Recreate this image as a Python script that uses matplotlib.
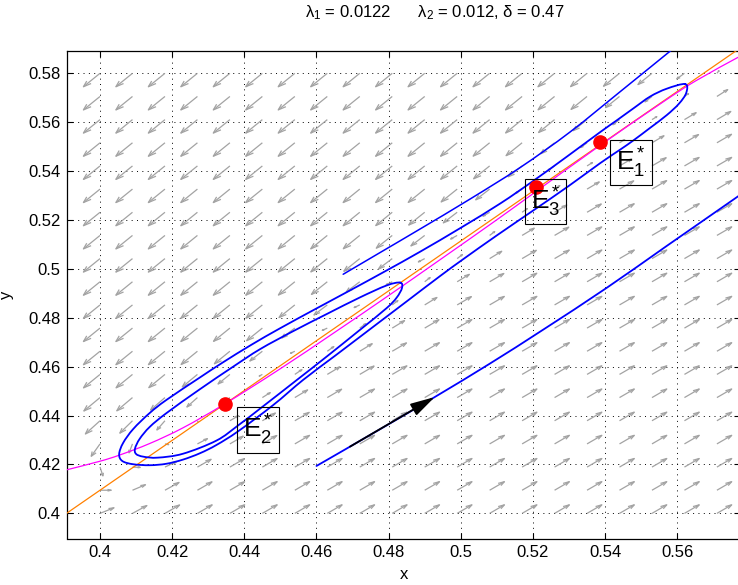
import numpy as np
import matplotlib
matplotlib.use('Agg')
import matplotlib.pyplot as plt
from matplotlib.collections import LineCollection
from matplotlib.path import Path
from matplotlib.patches import PathPatch

# ---------------- data ----------------
# straight (orange) nullcline
orange_x = [0.3907, 0.5780]
orange_y = [0.4000, 0.5909]

# curved (magenta) nullcline
magenta_x = [0.3907, 0.3999, 0.4055, 0.4138, 0.4230, 0.4346, 0.4498, 0.4650, 0.4800,
             0.4942, 0.5100, 0.5208, 0.5386, 0.5556, 0.5650, 0.5772]
magenta_y = [0.4178, 0.4213, 0.4239, 0.4286, 0.4350, 0.4448, 0.4590, 0.4740, 0.4891,
             0.5037, 0.5201, 0.5316, 0.5505, 0.5678, 0.5768, 0.5868]

# open trajectory in the upper left
trajA_x = [0.4674, 0.4780, 0.4887, 0.5025, 0.5164, 0.5303, 0.5442, 0.5584]
trajA_y = [0.4978, 0.5070, 0.5163, 0.5285, 0.5414, 0.5560, 0.5725, 0.5895]

# outer closed loop (starts at the upper-right tip, runs down the upper branch)
loopB_x = [0.5622, 0.5571, 0.5525, 0.5479, 0.5430, 0.5386, 0.5294, 0.5201, 0.5110, 0.5000,
           0.4887, 0.4790, 0.4693, 0.4596, 0.4499, 0.4420, 0.4340, 0.4277, 0.4184, 0.4138,
           0.4092, 0.4064, 0.4053,
           0.4062, 0.4092, 0.4138, 0.4184, 0.4230, 0.4277, 0.4323, 0.4383, 0.4480, 0.4563,
           0.4650, 0.4750, 0.4850, 0.4942, 0.5007, 0.5100, 0.5200, 0.5300, 0.5386, 0.5442,
           0.5479, 0.5525, 0.5571, 0.5605, 0.5625]
loopB_y = [0.5756, 0.5737, 0.5705, 0.5657, 0.5605, 0.5559, 0.5459, 0.5360, 0.5268, 0.5168,
           0.5070, 0.4990, 0.4912, 0.4835, 0.4757, 0.4690, 0.4617, 0.4556, 0.4464, 0.4411,
           0.4345, 0.4288, 0.4242,
           0.4214, 0.4201, 0.4197, 0.4203, 0.4220, 0.4246, 0.4280, 0.4336, 0.4443, 0.4546,
           0.4643, 0.4755, 0.4867, 0.4970, 0.5040, 0.5137, 0.5238, 0.5340, 0.5432, 0.5488,
           0.5526, 0.5577, 0.5629, 0.5676, 0.5720]

# inner closed loop around E2* (starts at its right tip)
loopC_x = [0.4832, 0.4794, 0.4720, 0.4628, 0.4535, 0.4444, 0.4369, 0.4277, 0.4184, 0.4138,
           0.4110, 0.4097,
           0.4100, 0.4120, 0.4160, 0.4230, 0.4323, 0.4383, 0.4452, 0.4545, 0.4628, 0.4720,
           0.4794, 0.4822, 0.4837]
loopC_y = [0.4944, 0.4932, 0.4883, 0.4815, 0.4745, 0.4672, 0.4600, 0.4508, 0.4410, 0.4354,
           0.4305, 0.4265,
           0.4243, 0.4232, 0.4228, 0.4244, 0.4298, 0.4360, 0.4438, 0.4545, 0.4641, 0.4750,
           0.4839, 0.4882, 0.4922]

# lower right trajectory
trajD_x = [0.4600, 0.4777, 0.4928, 0.5080, 0.5229, 0.5405, 0.5571, 0.5765, 0.5800]
trajD_y = [0.4194, 0.4345, 0.4476, 0.4612, 0.4752, 0.4923, 0.5094, 0.5293, 0.5330]

# direction arrow on the lower trajectory
arrow_start = (0.4693, 0.4273)
arrow_end = (0.4928, 0.4476)

# equilibria
eq_names = ['$\\mathrm{E}_1^*$', '$\\mathrm{E}_2^*$', '$\\mathrm{E}_3^*$']
eq_x = [0.5386, 0.4346, 0.5208]
eq_y = [0.5520, 0.4448, 0.5336]
label_x = [0.5472, 0.4438, 0.5235]
label_y = [0.5435, 0.4340, 0.5276]

xticks = [0.40, 0.42, 0.44, 0.46, 0.48, 0.50, 0.52, 0.54, 0.56]
xticklabels = ['0.4', '0.42', '0.44', '0.46', '0.48', '0.5', '0.52', '0.54', '0.56']
yticks = [0.40, 0.42, 0.44, 0.46, 0.48, 0.50, 0.52, 0.54, 0.56, 0.58]
yticklabels = ['0.4', '0.42', '0.44', '0.46', '0.48', '0.5', '0.52', '0.54', '0.56', '0.58']

title = '$\\lambda_1$ = 0.0122      $\\lambda_2$ = 0.012, $\\delta$ = 0.47'

# ---------------- styling ----------------
plt.rcParams['font.family'] = ['Liberation Sans', 'DejaVu Sans']
plt.rcParams['mathtext.fontset'] = 'custom'
plt.rcParams['mathtext.rm'] = 'Liberation Sans'
plt.rcParams['mathtext.it'] = 'Liberation Sans'
plt.rcParams['mathtext.bf'] = 'Liberation Sans:bold'

W, H = 738, 585
fig = plt.figure(figsize=(W / 100, H / 100), dpi=100)
ax = fig.add_axes([67.3 / W, 1 - 538.5 / H, (740 - 67.3) / W, (538.5 - 50.7) / H])
ax.set_xlim(0.39093, 0.5774)
ax.set_ylim(0.38973, 0.58924)


def smooth_path(xs, ys, closed=False):
    """Cubic Bezier path passing through every given point (Catmull-Rom tangents)."""
    P = np.column_stack([xs, ys]).astype(float)
    n = len(P)
    verts = [P[0]]
    codes = [Path.MOVETO]
    m = n if closed else n - 1
    for i in range(m):
        p0 = P[(i - 1) % n] if (closed or i > 0) else P[i]
        p1 = P[i]
        p2 = P[(i + 1) % n]
        p3 = P[(i + 2) % n] if (closed or i + 2 < n) else P[(i + 1) % n]
        c1 = p1 + (p2 - p0) / 6.0
        c2 = p2 - (p3 - p1) / 6.0
        verts += [c1, c2, p2]
        codes += [Path.CURVE4] * 3
    return Path(verts, codes)


def draw_curve(xs, ys, color, lw, closed=False, z=4):
    ax.add_patch(PathPatch(smooth_path(xs, ys, closed), fill=False, ec=color, lw=lw,
                           zorder=z, capstyle='round', joinstyle='round'))


# ---------------- direction field ----------------
qx = np.linspace(0.40, 0.58, 21)
qy = np.linspace(0.40, 0.58, 20)
X, Y = np.meshgrid(qx, qy)
dm = Y - np.interp(X, magenta_x, magenta_y)
do = Y - np.interp(X, orange_x, orange_y)
U = -np.where(dm > 0, 0.0046, 0.0041) * np.tanh(dm / 0.012)
V = -np.where(do > 0, 0.0055, 0.0035) * np.tanh(do / 0.012)
al, be = 0.33, 0.33
tx, ty = X + U, Y + V
b1x, b1y = tx - al * (U + be * V), ty - al * (V - be * U)
b2x, b2y = tx - al * (U - be * V), ty - al * (V + be * U)
segs = []
for i in range(X.shape[0]):
    for j in range(X.shape[1]):
        segs.append([(X[i, j], Y[i, j]), (tx[i, j], ty[i, j])])
        segs.append([(b1x[i, j], b1y[i, j]), (tx[i, j], ty[i, j]), (b2x[i, j], b2y[i, j])])
ax.add_collection(LineCollection(segs, colors='#a3a3a3', linewidths=0.9, zorder=1))

# ---------------- grid / axes ----------------
ax.set_xticks(xticks)
ax.set_xticklabels(xticklabels)
ax.set_yticks(yticks)
ax.set_yticklabels(yticklabels)
ax.grid(True, color='black', linestyle=(0, (1, 4.5)), linewidth=0.7)
ax.set_axisbelow(True)
ax.tick_params(direction='in', length=4, width=0.8, top=True, right=True,
               labelsize=12, pad=5, colors='black')
for s in ax.spines.values():
    s.set_linewidth(0.9)
ax.set_xlabel('x', fontsize=12, labelpad=5)
ax.set_ylabel('y', fontsize=12, labelpad=10)

# ---------------- curves ----------------
ax.plot(orange_x, orange_y, color='#ff8000', lw=0.9, zorder=3)
draw_curve(magenta_x, magenta_y, '#ff00ff', 0.9, z=3)
draw_curve(trajA_x, trajA_y, '#0000ff', 1.1)
draw_curve(loopB_x, loopB_y, '#0000ff', 1.3, closed=True)
draw_curve(loopC_x, loopC_y, '#0000ff', 1.3, closed=True)
draw_curve(trajD_x, trajD_y, '#0000ff', 1.3)
ax.annotate('', xy=arrow_end, xytext=arrow_start,
            arrowprops=dict(arrowstyle='-|>,head_length=0.75,head_width=0.2', color='black',
                            lw=1.3, shrinkA=0, shrinkB=0, mutation_scale=20), zorder=5)

ax.plot(eq_x, eq_y, 'o', color='#ff0000', ms=9.5, mec='#ff0000', zorder=6)
for nm, lx, ly in zip(eq_names, label_x, label_y):
    ax.text(lx, ly, nm, fontsize=19, ha='center', va='center', zorder=7,
            bbox=dict(boxstyle='square,pad=0.22', fc='none', ec='black', lw=0.8))

fig.text(435 / W, 1 - 13 / H, title, ha='center', va='center', fontsize=12)

fig.savefig('out.png', dpi=100)
